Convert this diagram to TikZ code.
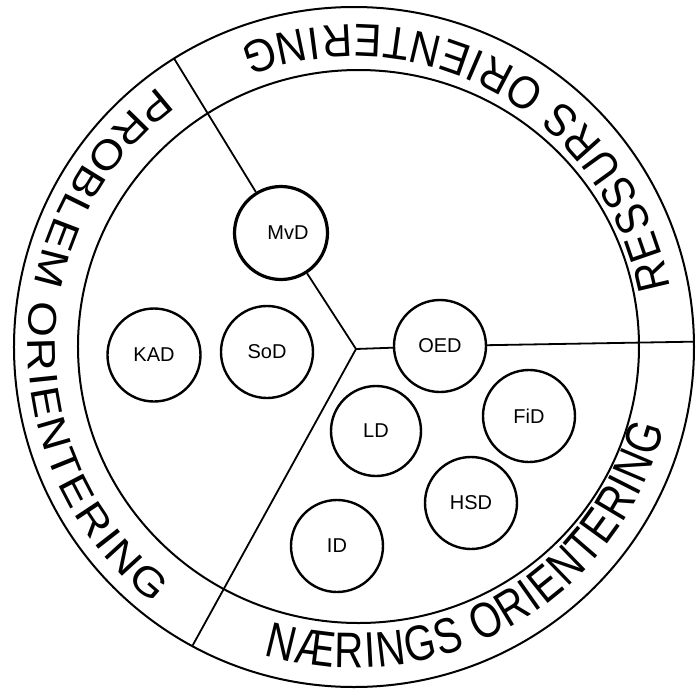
\documentclass[tikz,border=0pt]{standalone}
\usepackage{fontspec}
\setsansfont{Liberation Sans}
\newfontfamily\ringfontA[FakeStretch=0.9]{Liberation Sans}
\newfontfamily\ringfontB[FakeStretch=1.15]{Liberation Sans}
\newfontfamily\ringfontC[FakeStretch=0.8]{Liberation Sans}
\newcommand\ringA{\ringfontA\fontsize{46}{50}\selectfont}
\newcommand\ringB{\ringfontB\fontsize{40}{44}\selectfont}
\newcommand\ringC{\ringfontC\fontsize{50}{54}\selectfont}
\usetikzlibrary{decorations.text}
\begin{document}
\begin{tikzpicture}[x=1pt,y=1pt,
  ring/.style={line width=2pt},
  disc/.style={circle, draw, line width=2.4pt, minimum size=92pt, inner sep=0pt,
    font=\sffamily\fontsize{20}{20}\selectfont},
  spoke/.style={line width=1.8pt}]
\useasboundingbox (-354,-342) rectangle (342,347);
% outer and inner rings
\draw[ring] (0,0) circle[radius=340];
\draw[ring] (4.5,0.5) ellipse[x radius=280.5, y radius=276.5];
% spoke ends
\coordinate (j) at (2,-2);
\coordinate (e1) at (0.9:340);
\coordinate (e2) at (121.95:340);
\coordinate (e3) at (241.6:340);
% discs
\node[disc, line width=3.2pt, minimum size=93pt] (MvD) at (-73,114) {\hspace*{14pt}MvD};
\node[disc, minimum size=93pt] (KAD) at (-200,-8) {KAD};
\node[disc] (SoD) at (-87,-5) {SoD};
\node[disc] (OED) at (86,1) {OED};
\node[disc, minimum size=90pt] (LD) at (22,-84) {LD};
\node[disc] (FiD) at (175,-69) {FiD};
\node[disc] (HSD) at (117,-156) {HSD};
\node[disc] (ID) at (-17,-199) {ID};
% spokes
\draw[spoke] (j) -- (OED) (OED) -- (e1)
             (j) -- (MvD) (MvD) -- (e2)
             (j) -- (e3);
% ring labels
\path[decorate, decoration={text along path, text={|\ringA|RESSURS ORIENTERING}, text align={fit to path}}]
  (10.6:322) arc[start angle=10.6, end angle=110.8, radius=322];
\path[decorate, decoration={text along path, text={|\ringB|PROBLEM ORIENTERING}, text align={fit to path}}]
  (126.9:326) arc[start angle=126.9, end angle=232, radius=326];
\path[decorate, decoration={text along path, text={|\ringC|NÆRINGS ORIENTERING}, text align={fit to path}}]
  (253.7:321) arc[start angle=253.7, end angle=345.4, radius=321];
\end{tikzpicture}
\end{document}
